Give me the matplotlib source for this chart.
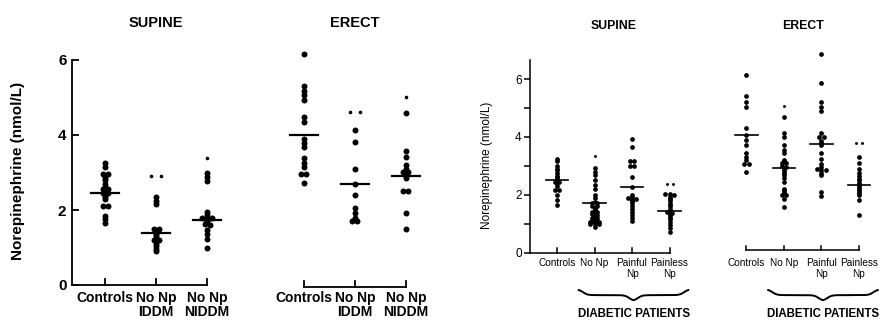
import numpy as np
import matplotlib.pyplot as plt

plt.rcParams['font.family'] = ['Liberation Sans', 'DejaVu Sans']

# ---- left figure: controls vs IDDM / NIDDM without neuropathy ----
left_labels = ['Controls', 'No Np\nIDDM', 'No Np\nNIDDM']
left_titles = ['SUPINE', 'ERECT']

sup_controls = [3.25, 3.15, 2.95, 2.95, 2.85, 2.8, 2.7, 2.6, 2.55, 2.55, 2.5,
                2.45, 2.45, 2.4, 2.35, 2.3, 2.1, 2.1, 1.85, 1.75, 1.65]
sup_iddm = [2.35, 2.25, 2.15, 1.5, 1.5, 1.45, 1.4, 1.35, 1.3, 1.25, 1.2, 1.2,
            1.1, 1.05, 0.95, 0.9]
sup_niddm = [2.98, 2.88, 2.78, 1.95, 1.88, 1.8, 1.8, 1.8, 1.75, 1.72, 1.68,
             1.62, 1.6, 1.48, 1.35, 1.22, 0.98]
ere_controls = [6.15, 5.3, 5.17, 5.07, 4.93, 4.47, 4.35, 3.88, 3.78, 3.67,
                3.4, 3.25, 3.14, 2.95, 2.95, 2.72]
ere_iddm = [4.12, 3.82, 3.08, 2.68, 2.4, 2.05, 1.92, 1.8, 1.72, 1.72]
ere_niddm = [4.58, 3.56, 3.42, 3.2, 3.1, 3.02, 3.02, 2.98, 2.92, 2.85, 2.5,
             2.5, 1.92, 1.5]
# small dots (top of groups)
left_small = {(0, 1): [2.92, 2.92], (0, 2): [3.38],
              (1, 1): [4.6, 4.6], (1, 2): [5.02]}
left_means = [[2.45, 1.38, 1.73], [4.0, 2.68, 2.9]]

# ---- right figure: controls vs diabetic patients by neuropathy ----
right_labels = ['Controls', 'No Np', 'Painful\nNp', 'Painless\nNp']
r_sup_controls = [3.25, 3.15, 3.0, 2.9, 2.85, 2.75, 2.65, 2.6, 2.55, 2.5, 2.45,
                  2.45, 2.4, 2.3, 2.15, 2.15, 2.0, 1.8, 1.65]
r_sup_nonp = [2.93, 2.8, 2.68, 2.52, 2.35, 2.2, 2.0, 1.88, 1.75, 1.7, 1.7, 1.62,
              1.6, 1.55, 1.5, 1.45, 1.4, 1.4, 1.32, 1.3, 1.25, 1.2, 1.2, 1.15,
              1.1, 1.1, 1.05, 1.05, 1.05, 0.97, 0.97, 0.97, 0.88]
r_sup_painful = [3.92, 3.65, 3.15, 3.15, 3.0, 3.0, 2.62, 2.28, 2.0, 1.92, 1.88,
                 1.85, 1.85, 1.82, 1.78, 1.72, 1.62, 1.5, 1.4, 1.3, 1.2, 1.1]
r_sup_painless = [2.02, 2.02, 2.0, 1.92, 1.85, 1.8, 1.72, 1.65, 1.6, 1.5, 1.45,
                  1.4, 1.38, 1.32, 1.25, 1.2, 1.15, 1.05, 0.95, 0.85, 0.72]
r_ere_controls = [6.15, 5.4, 5.22, 5.05, 4.32, 4.08, 3.88, 3.72, 3.43, 3.32,
                  3.2, 3.05, 3.05, 2.8]
r_ere_nonp = [4.68, 4.15, 3.98, 3.72, 3.55, 3.45, 3.2, 3.15, 3.1, 3.1, 2.98,
              2.95, 2.9, 2.82, 2.75, 2.68, 2.58, 2.45, 2.2, 2.15, 2.08, 2.0,
              2.0, 1.85, 1.58]
r_ere_painful = [6.86, 5.85, 5.2, 5.05, 4.9, 4.12, 4.0, 4.0, 3.85, 3.78, 3.72,
                 3.45, 3.22, 3.05, 2.95, 2.88, 2.85, 2.85, 2.75, 2.68, 2.1, 1.95]
r_ere_painless = [3.3, 3.08, 2.9, 2.75, 2.65, 2.55, 2.5, 2.42, 2.38, 2.32, 2.28,
                  2.2, 2.12, 2.05, 1.98, 1.8, 1.3]
right_small = {(0, 1): [3.35], (0, 3): [2.38, 2.38],
               (1, 1): [5.08], (1, 3): [3.8, 3.8]}
right_means = [[2.5, 1.72, 2.25, 1.42], [4.08, 2.92, 3.76, 2.32]]


def swarm(values, step, gap=0.03):
    # equal values sit side by side, centred on the category
    vals = np.asarray(values, dtype=float)
    offs = np.zeros(len(vals))
    rows = []
    for idx in np.argsort(-vals, kind='stable'):
        if rows and abs(vals[rows[-1][0]] - vals[idx]) < gap:
            rows[-1].append(idx)
        else:
            rows.append([idx])
    for row in rows:
        n = len(row)
        for k, idx in enumerate(row):
            offs[idx] = (k - (n - 1) / 2) * step
    return offs


def brace(ax, x0, x1, y, h, lw):
    half = (x1 - x0) / 2
    u = np.linspace(0, 1, 200)
    b = 25
    s = 1 / (1 + np.exp(-b * (u - 0.08))) + 1 / (1 + np.exp(-b * (u - 0.92)))
    s = (s - s.min()) / (s.max() - s.min())
    xs = np.concatenate([x0 + u * half, x1 - u[::-1] * half])
    ys = np.concatenate([y - h * s, y - h * s[::-1]])
    ax.plot(xs, ys, color='black', lw=lw, clip_on=False)


fig = plt.figure(figsize=(8.86, 3.22), dpi=100)

# ================= left figure =================
ax1 = fig.add_axes([72 / 886, 37 / 322, 368 / 886, 225 / 322])
left_groups = [[sup_controls, sup_iddm, sup_niddm],
               [ere_controls, ere_iddm, ere_niddm]]
left_pos = [np.array([0, 1, 2]), np.array([3.9, 4.9, 5.9])]
for p in range(2):
    for i, vals in enumerate(left_groups[p]):
        x = left_pos[p][i]
        vals = np.array(vals)
        ax1.plot(x + swarm(vals, 0.1), vals, 'o', color='black', ms=4.3,
                 mew=0, clip_on=False)
        if (p, i) in left_small:
            sm = np.array(left_small[(p, i)])
            ax1.plot(x + swarm(sm, 0.2), sm,
                     'o', color='black', ms=2.6, mew=0, clip_on=False)
        ax1.plot([x - 0.28, x + 0.28], [left_means[p][i]] * 2, color='black', lw=1.6)
    # baseline / bracket
    px = left_pos[p]
    yb = 0 if p == 0 else -0.05
    x_start = -0.65 if p == 0 else px[0]
    ax1.plot([x_start, px[-1]], [yb, yb], color='black', lw=1.3, clip_on=False)
    for x in px:
        ax1.plot([x, x], [yb, yb + 0.17], color='black', lw=1.3, clip_on=False)
    ax1.text(px.mean(), 6.99, left_titles[p], ha='center', va='center',
             fontsize=10.5, fontweight='bold')

ax1.set_xlim(-0.65, 6.57)
ax1.set_ylim(0, 6)
ax1.set_xticks(np.concatenate(left_pos), left_labels * 2)
ax1.tick_params(axis='x', length=0, pad=4, labelsize=10)
for t in ax1.get_xticklabels():
    t.set_fontweight('bold')
    t.set_linespacing(1.05)
ax1.set_yticks([0, 2, 4, 6])
ax1.tick_params(axis='y', direction='in', length=5, width=1.3, labelsize=11, pad=4)
for t in ax1.get_yticklabels():
    t.set_fontweight('bold')
for s in ['top', 'right', 'bottom']:
    ax1.spines[s].set_visible(False)
ax1.spines['left'].set_linewidth(1.3)
ax1.set_ylabel('Norepinephrine (nmol/L)', fontsize=11, fontweight='bold')
ax1.yaxis.set_label_coords(-0.128, 0.507)
ax1.patch.set_visible(False)

# ================= right figure =================
ax2 = fig.add_axes([530 / 886, 69.5 / 322, 356 / 886, 192.5 / 322])
right_groups = [[r_sup_controls, r_sup_nonp, r_sup_painful, r_sup_painless],
                [r_ere_controls, r_ere_nonp, r_ere_painful, r_ere_painless]]
right_pos = [np.array([0, 1, 2, 3]), np.array([5.05, 6.05, 7.05, 8.05])]
for p in range(2):
    for i, vals in enumerate(right_groups[p]):
        x = right_pos[p][i]
        vals = np.array(vals)
        ax2.plot(x + swarm(vals, 0.11), vals, 'o', color='black', ms=3.4,
                 mew=0, clip_on=False)
        if (p, i) in right_small:
            sm = np.array(right_small[(p, i)])
            ax2.plot(x + swarm(sm, 0.16), sm,
                     'o', color='black', ms=2.1, mew=0, clip_on=False)
        ax2.plot([x - 0.3, x + 0.3], [right_means[p][i]] * 2, color='black', lw=1.2)
    px = right_pos[p]
    yb = 0 if p == 0 else 0.07
    x_start = -0.72 if p == 0 else px[0]
    ax2.plot([x_start, px[-1]], [yb, yb], color='black', lw=1.1, clip_on=False)
    for x in px:
        ax2.plot([x, x], [yb, yb + 0.16], color='black', lw=1.1, clip_on=False)
    ax2.text(px.mean(), 7.84, left_titles[p], ha='center', va='center',
             fontsize=8.8, fontweight='bold')
    # brace under diabetic groups
    brace(ax2, px[1] - 0.42, px[-1] + 0.5, -1.3, 0.35, 1.4)
    ax2.text(px[1:].mean() + 0.05, -2.12, 'DIABETIC PATIENTS', ha='center',
             va='center', fontsize=8.3, fontweight='bold')

ax2.set_xlim(-0.72, 8.77)
ax2.set_ylim(0, 6.66)
ax2.set_xticks(np.concatenate(right_pos), right_labels * 2)
ax2.tick_params(axis='x', length=0, pad=4, labelsize=7.2)
for t in ax2.get_xticklabels():
    t.set_linespacing(1.15)
ax2.set_yticks([0, 2, 4, 6])
ax2.set_yticks([1, 3, 5], minor=True)
ax2.tick_params(axis='y', which='both', direction='out', length=4, width=1.1,
                labelsize=8.5, pad=2)
for s in ['top', 'right', 'bottom']:
    ax2.spines[s].set_visible(False)
ax2.spines['left'].set_linewidth(1.1)
ax2.set_ylabel('Norepinephrine (nmol/L)', fontsize=8.5)
ax2.yaxis.set_label_coords(-0.104, 0.455)
ax2.patch.set_visible(False)

fig.savefig('out.png', dpi=100)
